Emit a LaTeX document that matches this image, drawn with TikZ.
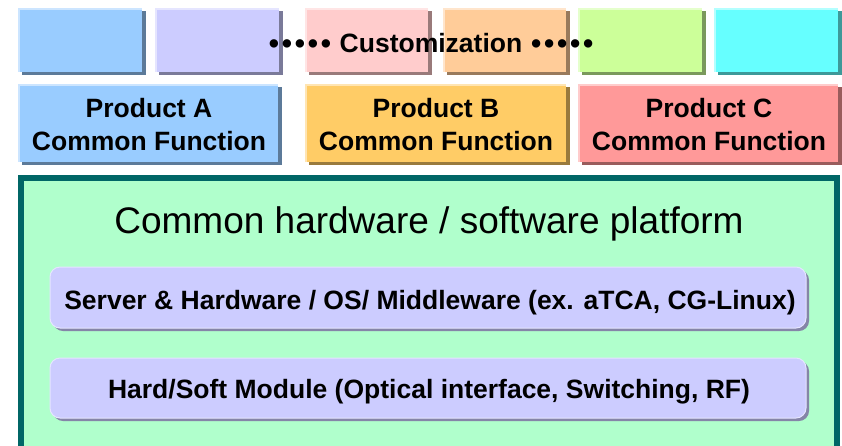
\documentclass[tikz,border=0pt]{standalone}
\usepackage{fontspec}
\setmainfont{Liberation Sans}
\usetikzlibrary{shadows}
\definecolor{cBlue}{HTML}{99CCFF}
\definecolor{cBlueL}{HTML}{CCE5FF}
\definecolor{cBlueS}{HTML}{5C7A99}
\definecolor{cLav}{HTML}{CCCCFF}
\definecolor{cLavL}{HTML}{E5E5FF}
\definecolor{cLavS}{HTML}{7A7A99}
\definecolor{cPink}{HTML}{FFCCCC}
\definecolor{cPinkL}{HTML}{FFE5E5}
\definecolor{cPinkS}{HTML}{997A7A}
\definecolor{cPeach}{HTML}{FFCC99}
\definecolor{cPeachL}{HTML}{FFE5CC}
\definecolor{cPeachS}{HTML}{997A5C}
\definecolor{cLime}{HTML}{CCFF99}
\definecolor{cLimeL}{HTML}{E5FFCC}
\definecolor{cLimeS}{HTML}{7A995C}
\definecolor{cCyan}{HTML}{66FFFF}
\definecolor{cCyanL}{HTML}{B3FFFF}
\definecolor{cCyanS}{HTML}{3D9999}
\definecolor{cGold}{HTML}{FFCC66}
\definecolor{cGoldL}{HTML}{FFE5B3}
\definecolor{cGoldS}{HTML}{997A3D}
\definecolor{cRed}{HTML}{FF9999}
\definecolor{cRedL}{HTML}{FFCCCC}
\definecolor{cRedS}{HTML}{995C5C}
\definecolor{cPlat}{HTML}{B0FFCC}
\definecolor{cTeal}{HTML}{006666}
\definecolor{cModS}{HTML}{8585A8}
\newcommand{\onedot}{\makebox[13pt]{\raisebox{-1pt}{\scalebox{1.1}{•}}}}
\newcommand{\fivedots}{\onedot\onedot\onedot\onedot\onedot}
\tikzset{
  flatbox/.style n args={3}{fill=#1, draw=none, inner sep=0pt,
    drop shadow={shadow xshift=4pt, shadow yshift=-3pt, fill=#3, opacity=1},
    path picture={\draw[#2, line width=4pt]
      (path picture bounding box.south west) -- (path picture bounding box.north west)
      -- (path picture bounding box.north east);}},
  toprow/.style={minimum height=64pt},
  midrow/.style={minimum height=78pt},
  boldtxt/.style={font=\fontsize{26.5}{33}\selectfont\bfseries, text=black},
  modbox/.style={fill=cLav, draw=cLavL, line width=1pt, rounded corners=10pt,
    minimum width=756pt, inner sep=0pt,
    drop shadow={shadow xshift=3pt, shadow yshift=-3pt, fill=cModS, opacity=1}},
  platform/.style={fill=cPlat, draw=cTeal, line width=6pt, minimum width=816pt,
    minimum height=284pt, inner sep=0pt}
}
\begin{document}
\begin{tikzpicture}[x=1pt,y=-1pt]
\useasboundingbox (0,0) rectangle (842,445);
\fill[white] (0,0) rectangle (842,445);
% customization row
\node[flatbox={cBlue}{cBlueL}{cBlueS}, toprow, minimum width=124pt] (c1) at (80,40) {};
\node[flatbox={cLav}{cLavL}{cLavS}, toprow, minimum width=124pt] (c2) at (217,40) {};
\node[flatbox={cPink}{cPinkL}{cPinkS}, toprow, minimum width=123pt] (c3) at (366.5,40) {};
\node[flatbox={cPeach}{cPeachL}{cPeachS}, toprow, minimum width=123pt] (c4) at (504.5,40) {};
\node[flatbox={cLime}{cLimeL}{cLimeS}, toprow, minimum width=124pt] (c5) at (640,40) {};
\node[flatbox={cCyan}{cCyanL}{cCyanS}, toprow, minimum width=124pt] (c6) at (776,40) {};
\node[boldtxt, anchor=base, inner sep=0pt] (cust) at (431,52) {\fivedots\ Customization \fivedots};
% product row
\node[flatbox={cBlue}{cBlueL}{cBlueS}, midrow, minimum width=260pt] (pa) at (148,123) {};
\node[flatbox={cGold}{cGoldL}{cGoldS}, midrow, minimum width=261pt] (pb) at (435.5,123) {};
\node[flatbox={cRed}{cRedL}{cRedS}, midrow, minimum width=260pt] (pc) at (708,123) {};
\node[boldtxt, align=center, inner sep=0pt] (ta) at (149,125) {Product A\\Common Function};
\node[boldtxt, align=center, inner sep=0pt] (tb) at (436,125) {Product B\\Common Function};
\node[boldtxt, align=center, inner sep=0pt] (tc) at (709,125) {Product C\\Common Function};
% platform
\node[platform] (plat) at (429,320) {};
\node[anchor=base, inner sep=0pt, font=\fontsize{37}{44}\selectfont] (title) at (429,233) {Common hardware / software platform};
\node[modbox, minimum height=61pt] (srv) at (428,297.5) {};
\node[boldtxt, anchor=base, inner sep=0pt] (srvt) at (430,309) {Server \& Hardware / OS/ Middleware (ex. aTCA, CG-Linux)};
\node[modbox, minimum height=60pt] (mod) at (428,388) {};
\node[boldtxt, anchor=base, inner sep=0pt] (modt) at (429,398) {Hard/Soft Module (Optical interface, Switching, RF)};
\end{tikzpicture}
\end{document}
